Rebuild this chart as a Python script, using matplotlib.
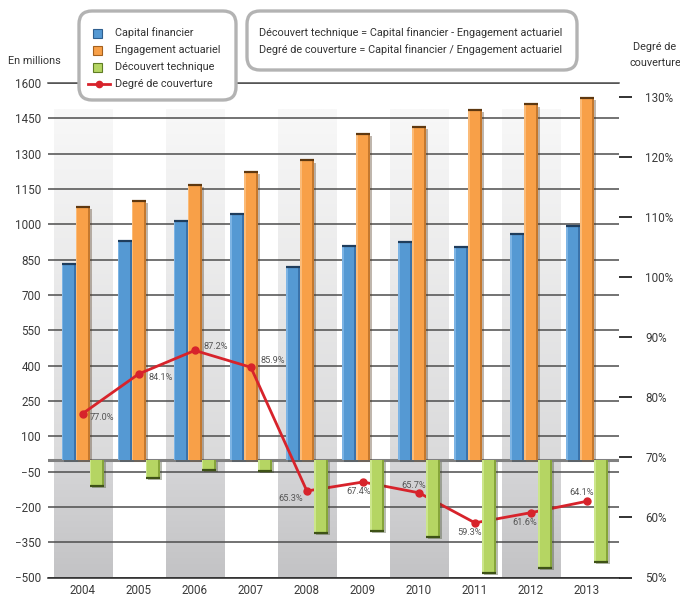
import numpy as np
import matplotlib
matplotlib.use('Agg')
import matplotlib.pyplot as plt
import matplotlib.patheffects as pe
from matplotlib import font_manager
from matplotlib.patches import FancyBboxPatch, Rectangle
from matplotlib.colors import LinearSegmentedColormap
from matplotlib.lines import Line2D

_names = {f.name for f in font_manager.fontManager.ttflist}
FONT = 'Liberation Sans Narrow' if 'Liberation Sans Narrow' in _names else 'Roboto'
plt.rcParams['font.family'] = [FONT, 'DejaVu Sans']
FS = 7.8       # box texts
TS = 8.4       # tick labels

# data
years = ['2004', '2005', '2006', '2007', '2008', '2009', '2010', '2011', '2012', '2013']
capital = [830, 927, 1016, 1042, 818, 907, 924, 903, 957, 993]
engagement = [1072, 1100, 1166, 1222, 1271, 1383, 1412, 1484, 1509, 1538]
decouvert = [-110, -76, -42, -49, -309, -302, -326, -479, -459, -433]
couverture = [77.3, 83.9, 87.8, 85.0, 64.4, 65.9, 64.1, 59.1, 60.8, 62.7]
couverture_labels = ['77.0%', '84.1%', '87.2%', '85.9%', '65.3%',
                     '67.4%', '65.7%', '59.3%', '61.6%', '64.1%']
left_ticks = list(range(-500, 1601, 150))
right_ticks = [50, 60, 70, 80, 90, 100, 110, 120, 130]

# where each % label sits around its point (pixels, ha)
label_pos = [(7, -4, 'left'), (10, -4, 'left'), (9, 4, 'left'), (10, 7, 'left'),
             (-4, -7, 'right'), (-4, -10, 'center'), (-5, 7, 'center'),
             (-5, -10, 'center'), (-6, -10, 'center'), (-5, 9, 'center')]

W, H = 680, 599
fig = plt.figure(figsize=(W / 100, H / 100), dpi=100)
fig.patch.set_facecolor('white')

ax_l, ax_r, ax_t, ax_b = 48, 619, 83, 577.5
rect = [ax_l / W, (H - ax_b) / H, (ax_r - ax_l) / W, (ax_b - ax_t) / H]
ax = fig.add_axes(rect)
x = np.arange(len(years))
bw = 0.25

# shaded columns
cm_top = LinearSegmentedColormap.from_list('t', ['#dadadb', '#f8f8f8'])
cm_bot = LinearSegmentedColormap.from_list('b', ['#c3c3c5', '#d6d6d8'])
grad = np.linspace(0, 1, 128).reshape(-1, 1)
for i in x[::2]:
  ax.imshow(grad, extent=[i - 0.52, i + 0.53, 0, 1490], origin='lower',
            aspect='auto', cmap=cm_top, zorder=0.1)
  ax.imshow(grad, extent=[i - 0.52, i + 0.53, -500, 0], origin='lower',
            aspect='auto', cmap=cm_bot, zorder=0.1)

ax.set_xlim(-0.62, 9.57)
ax.set_ylim(-500, 1600)
ax.set_yticks(left_ticks)
ax.set_axisbelow(True)
ax.yaxis.grid(True, color='#4d4d4d', lw=1.1)
ax.axhline(0, color='#808080', lw=2.2, zorder=2)
for s in ['left', 'right']:
  ax.spines[s].set_visible(False)
for s in ['top', 'bottom']:
  ax.spines[s].set_color('#4d4d4d')
  ax.spines[s].set_linewidth(1.1)
ax.spines['bottom'].set_color('#222222')
ax.tick_params(axis='y', length=0, pad=5, labelsize=TS, labelcolor='#3a3a3a')
ax.tick_params(axis='x', length=0, pad=5, labelsize=TS, labelcolor='#3a3a3a')
ax.set_xticks(x)
ax.set_xticklabels(years)

shadow = [pe.SimplePatchShadow(offset=(1.5, -1.5), alpha=0.35), pe.Normal()]


def draw_bars(axis, xs, vals, main, light, dark, edge, z):
  bars = axis.bar(xs, vals, width=bw, color=main, zorder=z)
  for b in bars:
    b.set_path_effects(shadow)
  axis.bar(xs - bw / 2 + bw * 0.06, vals, width=bw * 0.12, color=light, zorder=z)
  axis.bar(xs + bw / 2 - bw * 0.07, vals, width=bw * 0.14, color=dark, zorder=z)
  axis.hlines(vals, xs - bw / 2, xs + bw / 2, color=edge, lw=1.6, zorder=z + 0.1)


draw_bars(ax, x - bw, capital, '#5599d3', '#7db4e4', '#3a72aa', '#1f3d5c', 3)
draw_bars(ax, x, engagement, '#f8a048', '#fbbb78', '#c4782e', '#5e3810', 3)

# coverage line on its own scale
axr = ax.twinx()
axr.set_ylim(50, 132.33)
axr.set_yticks(right_ticks)
axr.set_yticklabels([f'{t}%' for t in right_ticks])
for s in axr.spines.values():
  s.set_visible(False)
axr.tick_params(axis='y', length=9, width=1.3, color='#222222', pad=10,
                labelsize=TS, labelcolor='#3a3a3a')
axr.plot(x, couverture, color='#d7232b', lw=2, marker='o', ms=5, zorder=4)
for xi, yi, lab, (dx, dy, ha) in zip(x, couverture, couverture_labels, label_pos):
  axr.annotate(lab, (xi, yi), xytext=(dx, dy), textcoords='offset pixels',
               ha=ha, va='center', fontsize=6.6, color='#555555', zorder=6)

# green bars above the line
axg = ax.twinx()
axg.set_ylim(ax.get_ylim())
axg.axis('off')
draw_bars(axg, x + bw, decouvert, '#b5d563', '#cce68c', '#86a53a', '#3e5216', 3)
ax.set_zorder(1)
axr.set_zorder(2)
axg.set_zorder(3)

# overlay in pixel coordinates for the boxes and titles
ov = fig.add_axes([0, 0, 1, 1])
ov.set_xlim(0, W)
ov.set_ylim(H, 0)
ov.axis('off')
ov.set_zorder(10)

for (bx0, by0, bx1, by1) in [(79, 11, 236, 100), (247, 11, 577, 70)]:
  ov.add_patch(FancyBboxPatch((bx0, by0), bx1 - bx0, by1 - by0,
                              boxstyle='round,pad=0,rounding_size=13',
                              fc='white', ec='#b3b3b3', lw=2.4))

leg_rows = [33, 50, 67, 84]
leg_items = [('Capital financier', '#5599d3', '#2f5f8f'),
             ('Engagement actuariel', '#f8a048', '#a4601e'),
             ('Découvert technique', '#b5d563', '#5f7d24')]
for yy, (txt, fc, ec) in zip(leg_rows, leg_items):
  ov.add_patch(Rectangle((93, yy - 4.5), 9, 9, fc=fc, ec=ec, lw=0.8))
  ov.text(115, yy, txt, fontsize=FS, color='#333333', va='center', ha='left')
ov.add_line(Line2D([88, 110], [leg_rows[3], leg_rows[3]], color='#d7232b', lw=2))
ov.plot([99], [leg_rows[3]], 'o', color='#d7232b', ms=4.5)
ov.text(115, leg_rows[3], 'Degré de couverture', fontsize=FS, color='#333333',
        va='center', ha='left')

ov.text(259, 33, 'Découvert technique = Capital financier - Engagement actuariel',
        fontsize=FS, color='#333333', va='center', ha='left')
ov.text(259, 50, 'Degré de couverture = Capital financier / Engagement actuariel',
        fontsize=FS, color='#333333', va='center', ha='left')

ov.text(8, 61, 'En millions', fontsize=FS, color='#333333', va='center', ha='left')
ov.text(655, 47, 'Degré de', fontsize=FS, color='#333333', va='center', ha='center')
ov.text(655, 63, 'couverture', fontsize=FS, color='#333333', va='center', ha='center')

fig.savefig('out.png', dpi=100)
